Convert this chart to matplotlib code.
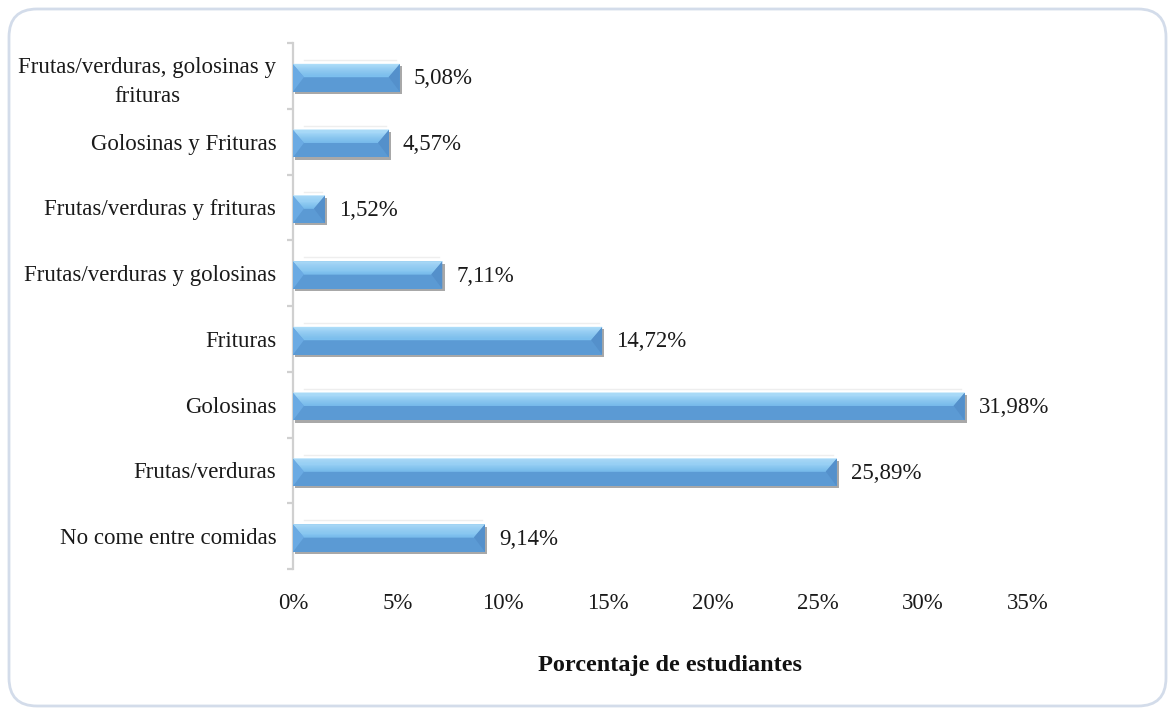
import matplotlib
matplotlib.use("Agg")
import matplotlib.pyplot as plt
import numpy as np
from matplotlib.colors import to_rgb
from matplotlib.patches import Polygon, Rectangle, FancyBboxPatch
from matplotlib import patheffects as pe

categories = [
    "No come entre comidas",
    "Frutas/verduras",
    "Golosinas",
    "Frituras",
    "Frutas/verduras y golosinas",
    "Frutas/verduras y frituras",
    "Golosinas y Frituras",
    "Frutas/verduras, golosinas y\nfrituras",
]
values = [9.14, 25.89, 31.98, 14.72, 7.11, 1.52, 4.57, 5.08]
xticks = [0, 5, 10, 15, 20, 25, 30, 35]
xlabel = "Porcentaje de estudiantes"

plt.rcParams['font.family'] = ['Liberation Serif', 'DejaVu Serif']

W, H = 1170, 710
fig = plt.figure(figsize=(W / 100, H / 100), dpi=100)

# rounded frame
frame = FancyBboxPatch((9, 4), 1157, 697, boxstyle="round,pad=0,rounding_size=28",
                       transform=None, facecolor='none', edgecolor='#D3DCEA',
                       linewidth=2.0, zorder=-5)
fig.patches.append(frame)

ax_left, ax_right = 293, 1028
ax_top, ax_bot = 43, 569
ax = fig.add_axes([ax_left / W, 1 - ax_bot / H, (ax_right - ax_left) / W, (ax_bot - ax_top) / H])
ax.set_facecolor('none')
ax.set_xlim(0, 35)
ax.set_ylim(-0.5, len(categories) - 0.5)

for s in ['top', 'right', 'bottom']:
    ax.spines[s].set_visible(False)
ax.spines['left'].set_color('#D0D0D0')
ax.spines['left'].set_linewidth(1.6)

FS = 16.5
ax.set_xticks(xticks)
ax.set_xticklabels([f"{t}%" for t in xticks])
ax.tick_params(axis='x', length=0, pad=17, labelsize=FS, colors='#1a1a1a')

ax.set_yticks(range(len(categories)))
ax.set_yticklabels(categories)
for lab in ax.get_yticklabels():
    lab.set_multialignment('center')
    lab.set_linespacing(1.45)
ax.tick_params(axis='y', which='major', length=0, pad=12, labelsize=FS, colors='#1a1a1a')
ax.set_yticks([i - 0.5 for i in range(len(categories) + 1)], minor=True)
ax.tick_params(axis='y', which='minor', length=4.5, width=1.6, color='#D0D0D0')

# bar geometry
h = 0.42
px_per_unit_x = (ax_right - ax_left) / 35.0
bw = 11 / px_per_unit_x
c_top = np.array(to_rgb('#B0DFFA'))
c_mid = np.array(to_rgb('#7CBFEE'))
nsteps = 12

for i, v in enumerate(values):
    yc = i - 0.03
    top = yc + h / 2
    bot = yc - h / 2
    mid = top - 0.47 * h
    base = Rectangle((0, bot), v, h, facecolor='#5B9AD4', edgecolor='none', zorder=3,
                     path_effects=[pe.SimplePatchShadow(offset=(1.6, -1.6), shadow_rgbFace='#A8A8A8', alpha=1.0),
                                   pe.Normal()])
    ax.add_patch(base)
    b = min(bw, v / 2.2)
    for k in range(nsteps):
        t = k / (nsteps - 1)
        col = tuple(c_top * (1 - t) + c_mid * t)
        y1 = top - (top - mid) * k / nsteps
        y2 = top - (top - mid) * (k + 1) / nsteps
        f1 = (top - y1) / (top - mid)
        f2 = (top - y2) / (top - mid)
        poly = Polygon([(b * f1, y1), (v - b * f1, y1), (v - b * f2, y2), (b * f2, y2)],
                       closed=True, facecolor=col, edgecolor=col, linewidth=0.3, zorder=4)
        ax.add_patch(poly)
    ax.add_patch(Polygon([(0, top), (b, mid), (0, bot)], closed=True,
                         facecolor='#6AAAE3', edgecolor='none', zorder=5))
    ax.add_patch(Polygon([(v, top), (v - b, mid), (v, bot)], closed=True,
                         facecolor='#5490CB', edgecolor='none', zorder=5))
    # faint top face line
    ax.plot([b, v - b * 0.3], [top + 0.06, top + 0.06], color='#EEEEEE', lw=1, zorder=2)
    ax.annotate(f"{v:.2f}%".replace('.', ','), xy=(v, i), xytext=(14, -3),
                textcoords='offset pixels', va='center', ha='left', fontsize=FS,
                color='#1a1a1a', zorder=6)

fig.text(670 / W, 1 - 665 / H, xlabel, ha='center', va='center', fontsize=17.5,
         fontweight='bold', color='#111111')

fig.savefig('out.png', dpi=100)
